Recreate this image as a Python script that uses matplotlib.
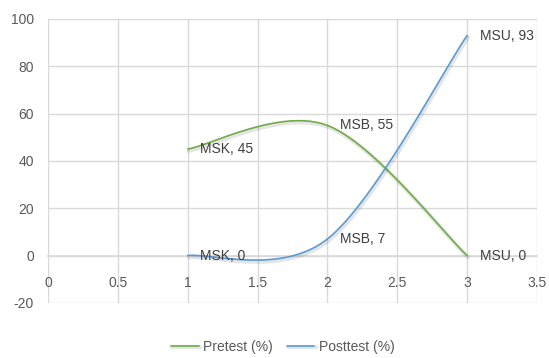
import numpy as np
import matplotlib.pyplot as plt
import matplotlib.patheffects as pe

plt.rcParams['font.family'] = ['Liberation Sans', 'DejaVu Sans']
plt.rcParams['axes.unicode_minus'] = False

STAGES = ["MSK", "MSB", "MSU"]
X = [1, 2, 3]
PRETEST = [45, 55, 0]
POSTTEST = [0, 7, 93]

GREEN = "#70AD47"; BLUE = "#5B9BD5"; GRID = "#D9D9D9"; TICK = "#595959"; LBL = "#404040"


def excel_smooth(xs, ys, n=60):
    # catmull-rom style bezier like excel "smoothed line"
    p = np.column_stack([xs, ys]).astype(float)
    ext = np.vstack([p[0], p, p[-1]])
    out = []
    t = np.linspace(0, 1, n)[:, None]
    for i in range(len(p) - 1):
        p0, p1 = ext[i + 1], ext[i + 2]
        c1 = p0 + (ext[i + 2] - ext[i]) / 6
        c2 = p1 - (ext[i + 3] - ext[i + 1]) / 6
        seg = (1 - t) ** 3 * p0 + 3 * (1 - t) ** 2 * t * c1 + 3 * (1 - t) * t ** 2 * c2 + t ** 3 * p1
        out.append(seg if i == 0 else seg[1:])
    s = np.vstack(out)
    return s[:, 0], s[:, 1]


fig = plt.figure(figsize=(5.49, 3.58), dpi=100)
ax = fig.add_axes([0.0874, 0.154, 0.8906, 0.793])

shadow = [pe.SimpleLineShadow(offset=(0.8, -1.2), shadow_color="#000000", alpha=0.10, linewidth=3.0),
          pe.Normal()]
for ys, col, name in [(PRETEST, GREEN, "Pretest (%)"), (POSTTEST, BLUE, "Posttest (%)")]:
    sx, sy = excel_smooth(X, ys)
    ax.plot(sx, sy, color=col, lw=1.2, label=name, path_effects=shadow, zorder=3, solid_capstyle="round")
    for xi, yi, st in zip(X, ys, STAGES):
        ax.annotate(f"{st}, {yi}", (xi, yi), xytext=(9, 0), textcoords="offset points",
                    ha="left", va="center", fontsize=10, color=LBL, zorder=4)

ax.set_xlim(0, 3.5)
ax.set_ylim(-20, 100)
ax.set_xticks(np.arange(0, 3.51, 0.5))
ax.set_xticklabels(["0", "0.5", "1", "1.5", "2", "2.5", "3", "3.5"])
ax.set_yticks(range(-20, 101, 20))
ax.grid(True, color=GRID, lw=1.0)
ax.set_axisbelow(True)
for s in ["top", "right", "left"]:
    ax.spines[s].set_visible(False)
ax.spines["bottom"].set_position(("data", 0))
ax.spines["bottom"].set_color(GRID)
ax.spines["bottom"].set_linewidth(1.2)
ax.tick_params(axis="x", length=0, pad=15, labelsize=10, labelcolor=TICK)
ax.tick_params(axis="y", length=0, pad=10, labelsize=10, labelcolor=TICK)

fig.legend(loc="center", bbox_to_anchor=(0.515, 0.032), ncol=2, frameon=False, fontsize=10,
           handlelength=2.0, columnspacing=1.0, handletextpad=0.3, labelcolor=TICK)
fig.savefig("out.png", dpi=100, facecolor="white")
